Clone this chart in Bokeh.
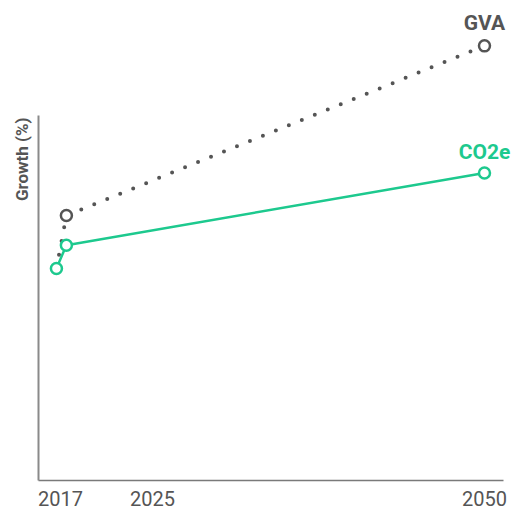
from bokeh.plotting import figure
from bokeh.models import Range1d, FixedTicker, Title, ColumnDataSource
from bokeh.core.properties import value
from bokeh.embed import file_html
from bokeh.resources import INLINE

# Growth index (first point = 100) for each series
point_years = [2017.77, 2018.52, 2050]
gva_values = [100, 125, 205]
co2e_values = [100, 111, 145]
series_names = ["GVA", "CO2e"]

# x-axis tick positions and their labels
tick_positions = [2018.07, 2025, 2050]
tick_labels = ["2017", "2025", "2050"]

GREY = "#555555"
GREEN = "#1dc98e"

p = figure(
    width=514, height=513,
    x_range=Range1d(2016.42, 2052.26),
    y_range=Range1d(0, 226.4),
    output_backend="svg", toolbar_location=None,
    min_border_left=38, min_border_right=0,
    min_border_top=0, min_border_bottom=33,
)
p.outline_line_color = None
p.grid.grid_line_color = None
p.background_fill_color = "white"
p.border_fill_color = "white"

# x-axis: plain rule with year labels only
xa = p.xaxis[0]
xa.ticker = FixedTicker(ticks=tick_positions)
xa.major_label_overrides = {t: lab for t, lab in zip(tick_positions, tick_labels)}
xa.major_tick_line_color = None
xa.minor_tick_line_color = None
xa.major_tick_out = 0
xa.major_label_standoff = 10
xa.axis_line_color = "#7a7a7a"
xa.axis_line_width = 1.5
xa.bounds = (2016.42, 2051.43)
xa.major_label_text_font = "Roboto"
xa.major_label_text_font_size = "20px"
xa.major_label_text_color = GREY

# y-axis: rule only, shorter than the frame
ya = p.yaxis[0]
ya.ticker = FixedTicker(ticks=[])
ya.major_tick_line_color = None
ya.minor_tick_line_color = None
ya.major_tick_out = 0
ya.major_label_text_font_size = "0px"
ya.axis_line_color = "#8a8a8a"
ya.axis_line_width = 2
ya.bounds = (0, 172)

gva_src = ColumnDataSource(dict(x=point_years, y=gva_values))
co2_src = ColumnDataSource(dict(x=point_years, y=co2e_values))

# GVA: dotted line
p.line("x", "y", source=gva_src, line_color=GREY, line_width=4,
       line_dash="0 14", line_cap="round")
# CO2e: solid line
p.line("x", "y", source=co2_src, line_color=GREEN, line_width=2.5)

# hollow markers at the start, the next step and 2050
p.scatter("x", "y", source=ColumnDataSource(dict(x=point_years[1:], y=gva_values[1:])),
          size=11, line_width=2.5, line_color=GREY, fill_color="white")
p.scatter("x", "y", source=co2_src, size=11, line_width=2.5,
          line_color=GREEN, fill_color="white")

# series names above their 2050 points
p.text(x=[point_years[-1]], y=[gva_values[-1]], text=[series_names[0]],
       text_align="center", text_baseline="middle", y_offset=-23,
       text_font=value("Roboto"), text_font_style="bold",
       text_font_size="21px", text_color=GREY)
p.text(x=[point_years[-1]], y=[co2e_values[-1]], text=[series_names[1]],
       text_align="center", text_baseline="middle", y_offset=-21,
       text_font=value("Roboto"), text_font_style="bold",
       text_font_size="21px", text_color=GREEN)

# y-axis title, placed near the top of the axis rule
p.add_layout(Title(text="Growth (%)", align="right", offset=117, standoff=14,
                   text_font="Roboto", text_font_style="bold",
                   text_font_size="17px", text_color=GREY), "left")

open("out.html", "w").write(file_html(p, INLINE))
